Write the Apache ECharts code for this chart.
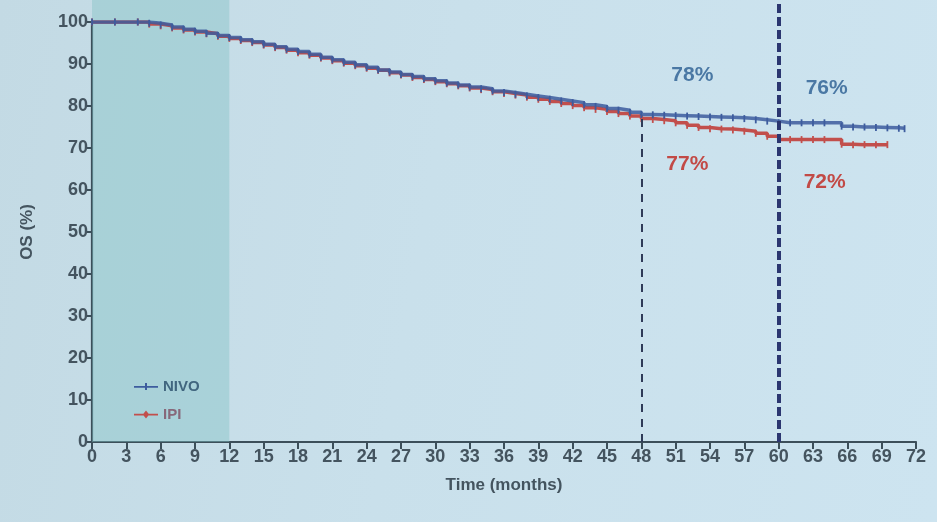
<!DOCTYPE html>
<html>
<head>
<meta charset="utf-8">
<title>OS (%) – NIVO vs IPI</title>
<script src="https://cdn.jsdelivr.net/npm/echarts@6/dist/echarts.min.js"></script>
<style>
  html, body { margin: 0; padding: 0; }
  body {
    width: 937px; height: 522px; overflow: hidden;
    background: linear-gradient(100deg, #c3dae4 0%, #c9e0eb 45%, #cde4f0 100%);
  }
  #chart { width: 937px; height: 522px; }
</style>
</head>
<body>
<div id="chart"></div>
<script>
// Kaplan–Meier overall survival, months vs percent alive
const nivo = [
  [0, 100], [2, 100], [4, 100], [5, 99.7], [6, 99.3], [7, 98.8], [8, 98.3], [9, 97.8],
  [10, 97.3], [11, 96.8], [12, 96.3], [13, 95.8], [14, 95.3], [15, 94.7], [16, 94.1],
  [17, 93.5], [18, 93.0], [19, 92.3], [20, 91.6], [21, 91.0], [22, 90.4], [23, 89.8],
  [24, 89.2], [25, 88.6], [26, 88.1], [27, 87.5], [28, 87.0], [29, 86.5], [30, 86.0],
  [31, 85.5], [32, 85.0], [33, 84.5], [34, 84.1], [35, 83.6], [36, 83.2], [37, 82.8],
  [38, 82.4], [39, 82.0], [40, 81.6], [41, 81.2], [42, 80.8], [43, 80.3], [44, 79.9],
  [45, 79.4], [46, 79.0], [47, 78.5], [48, 78.0], [49, 77.9], [50, 77.8], [51, 77.7],
  [52, 77.6], [53, 77.5], [54, 77.4], [55, 77.3], [56, 77.2], [57, 77.0], [58, 76.7],
  [59, 76.4], [60, 76.0], [61, 76.0], [62, 76.0], [63, 76.0], [64, 76.0], [65.5, 75.2],
  [66.5, 75.0], [67.5, 75.0], [68.5, 74.9], [69.5, 74.8], [70.5, 74.7], [71, 74.6]
];
const ipi = [
  [0, 100], [2, 100], [4, 100], [5, 99.5], [6, 99.1], [7, 98.6], [8, 98.1], [9, 97.6],
  [10, 97.2], [11, 96.6], [12, 96.1], [13, 95.6], [14, 95.1], [15, 94.5], [16, 93.9],
  [17, 93.3], [18, 92.7], [19, 92.1], [20, 91.4], [21, 90.8], [22, 90.2], [23, 89.6],
  [24, 89.0], [25, 88.5], [26, 87.9], [27, 87.4], [28, 86.8], [29, 86.3], [30, 85.8],
  [31, 85.3], [32, 84.8], [33, 84.3], [34, 83.9], [35, 83.4], [36, 83.0], [37, 82.6],
  [38, 82.1], [39, 81.6], [40, 81.1], [41, 80.6], [42, 80.1], [43, 79.6], [44, 79.2],
  [45, 78.7], [46, 78.2], [47, 77.6], [48, 77.0], [49, 76.8], [50, 76.5], [51, 76.0],
  [52, 75.4], [53, 74.9], [54, 74.6], [55, 74.5], [56, 74.3], [57, 74.0], [58, 73.5],
  [59, 72.8], [60, 72.0], [61, 72.0], [62, 72.0], [63, 72.0], [64, 72.0], [65.5, 70.9],
  [66.5, 70.8], [67.5, 70.8], [68.5, 70.8], [69.5, 70.8]
];

// landmark time points with the survival rates printed beside them
const landmarkMonths = [48, 60];
const nivoLandmark = [78, 76];
const ipiLandmark = [77, 72];

// first-year shaded window and axis ticks
const shadedMonths = [0, 12];
const xTicks = [0, 72, 3];   // min, max, step
const yTicks = [0, 100, 10];

const NIVO_BLUE = '#3d5c9e';
const IPI_RED = '#c24f4c';
const AXIS = '#3c4f5a';
const TEXT = '#44545f';
const FONT = '"Liberation Sans", Arial, sans-serif';

const chart = echarts.init(document.getElementById('chart'), null, { renderer: 'canvas' });

const gridPos = { left: 92, right: 21, bottom: 80 };

chart.setOption({
  backgroundColor: 'transparent',
  animation: false,
  textStyle: { fontFamily: FONT },
  grid: [
    // full-height layer for the shaded window and the 60-month marker
    Object.assign({ top: 0 }, gridPos),
    // main plot
    Object.assign({ top: 22 }, gridPos)
  ],
  xAxis: [
    { gridIndex: 0, type: 'value', min: xTicks[0], max: xTicks[1], show: false },
    {
      gridIndex: 1, type: 'value', min: xTicks[0], max: xTicks[1], interval: xTicks[2],
      name: 'Time (months)', nameLocation: 'middle', nameGap: 35,
      nameTextStyle: { color: TEXT, fontSize: 17, fontWeight: 'bold', fontFamily: FONT },
      axisLine: { show: true, onZero: false, lineStyle: { color: AXIS, width: 2.2 } },
      axisTick: { show: true, length: 7, lineStyle: { color: AXIS, width: 2 } },
      axisLabel: { color: TEXT, fontSize: 18, fontWeight: 600, margin: 6, fontFamily: FONT },
      splitLine: { show: false }
    }
  ],
  yAxis: [
    { gridIndex: 0, type: 'value', min: 0, max: 105.24, show: false },
    {
      gridIndex: 1, type: 'value', min: yTicks[0], max: yTicks[1], interval: yTicks[2],
      name: 'OS (%)', nameLocation: 'middle', nameGap: 56, nameRotate: 90,
      nameTextStyle: { color: TEXT, fontSize: 17, fontWeight: 'bold', fontFamily: FONT },
      axisLine: { show: true, onZero: false, lineStyle: { color: AXIS, width: 2.2 } },
      axisTick: { show: true, length: 6, lineStyle: { color: AXIS, width: 2 } },
      axisLabel: { color: TEXT, fontSize: 18, fontWeight: 600, margin: 4, fontFamily: FONT },
      splitLine: { show: false }
    }
  ],
  legend: {
    orient: 'vertical',
    left: 129, top: 374,
    itemWidth: 24, itemHeight: 8, itemGap: 13,
    textStyle: { fontSize: 15, fontWeight: 'bold', fontFamily: FONT },
    data: [
      { name: 'NIVO', icon: 'path://M0,4h24v1.8H0z M11,1h2v7h-2z', textStyle: { color: '#41667f' } },
      { name: 'IPI', icon: 'path://M0,4h24v1.8H0z M12,0.8l3.2,4l-3.2,4l-3.2,-4z', textStyle: { color: '#87687a' } }
    ]
  },
  series: [
    {
      name: 'window',
      type: 'line',
      xAxisIndex: 0, yAxisIndex: 0,
      data: [],
      silent: true,
      markArea: {
        silent: true,
        itemStyle: { color: 'rgba(128,192,196,0.42)' },
        data: [[{ xAxis: shadedMonths[0] }, { xAxis: shadedMonths[1] }]]
      },
      markLine: {
        silent: true,
        symbol: ['none', 'none'],
        label: { show: false },
        lineStyle: { color: '#2b3670', width: 4, type: [9, 4] },
        data: [{ xAxis: landmarkMonths[1] }]
      }
    },
    {
      name: 'IPI',
      type: 'line',
      xAxisIndex: 1, yAxisIndex: 1,
      step: 'end',
      data: ipi,
      symbol: 'rect', symbolSize: [1.8, 7], showSymbol: true,
      itemStyle: { color: IPI_RED },
      lineStyle: { color: IPI_RED, width: 3.5 },
      z: 3,
      markLine: {
        silent: true,
        symbol: ['none', 'none'],
        label: { show: false },
        lineStyle: { color: '#2f3b58', width: 2, type: [8, 7] },
        data: [[{ coord: [landmarkMonths[0], 0] }, { coord: [landmarkMonths[0], ipiLandmark[0]] }]]
      },
      markPoint: {
        symbol: 'circle', symbolSize: 0,
        label: {
          show: true, formatter: '{c}%', color: '#c24a46',
          fontSize: 21, fontWeight: 'bold', fontFamily: FONT
        },
        data: [
          { coord: [landmarkMonths[0], ipiLandmark[0]], value: ipiLandmark[0], label: { offset: [46, 46] } },
          { coord: [landmarkMonths[1], ipiLandmark[1]], value: ipiLandmark[1], label: { offset: [46, 43] } }
        ]
      }
    },
    {
      name: 'NIVO',
      type: 'line',
      xAxisIndex: 1, yAxisIndex: 1,
      step: 'end',
      data: nivo,
      symbol: 'rect', symbolSize: [1.8, 7], showSymbol: true,
      itemStyle: { color: NIVO_BLUE },
      lineStyle: { color: NIVO_BLUE, width: 3.5, opacity: 0.85 },
      z: 4,
      markPoint: {
        symbol: 'circle', symbolSize: 0,
        label: {
          show: true, formatter: '{c}%', color: '#4a78a4',
          fontSize: 21, fontWeight: 'bold', fontFamily: FONT
        },
        data: [
          { coord: [landmarkMonths[0], nivoLandmark[0]], value: nivoLandmark[0], label: { offset: [51, -39] } },
          { coord: [landmarkMonths[1], nivoLandmark[1]], value: nivoLandmark[1], label: { offset: [48, -35] } }
        ]
      }
    }
  ]
});
</script>
</body>
</html>
